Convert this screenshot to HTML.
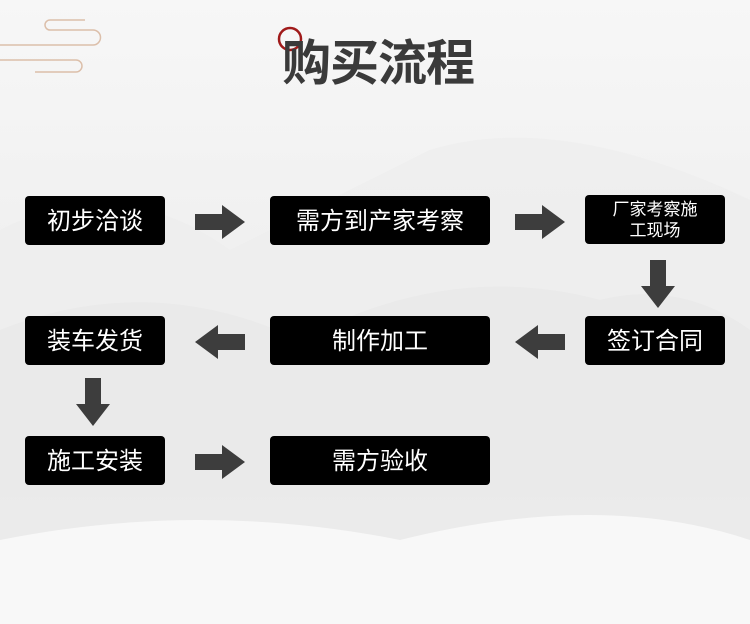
<!DOCTYPE html>
<html><head><meta charset="utf-8"><style>
body{margin:0;width:750px;height:624px;overflow:hidden;position:relative;background:linear-gradient(#f7f7f7 0%,#f0f0f0 40%,#f1f1f1 70%,#f9f9f9 100%);font-family:"Liberation Sans","Noto Sans CJK SC",sans-serif}
.b{position:absolute;box-sizing:border-box;padding-top:4px;background:#000;color:#fff;border-radius:4px;display:flex;align-items:center;justify-content:center;font-size:24px;text-align:center;line-height:1.2}
.t{position:absolute;left:282px;top:24px;font-size:49px;font-weight:bold;color:#3a3a3a;letter-spacing:-1px}
</style></head><body>
<svg style="position:absolute;left:0;top:0" width="750" height="624">
<path d="M0 230 Q120 170 230 250 Q330 200 430 150 Q560 110 750 200 L750 624 L0 624Z" fill="#ebebeb" opacity=".5"/>
<path d="M0 330 Q150 270 300 340 Q450 260 600 300 Q680 280 750 330 L750 624 L0 624Z" fill="#e6e6e6" opacity=".5"/>
<path d="M0 540 Q200 500 400 540 Q600 490 750 540 L750 624 L0 624Z" fill="#f8f8f8"/>
<g fill="none" stroke="#dcbfaa" stroke-width="1.5">
<path d="M85 20 H50 a5 5 0 0 0 0 10 H93 a7.5 7.5 0 0 1 0 15 H0"/>
<path d="M0 60 H76 a6 6 0 0 1 0 12 H35"/>
</g>
<circle cx="290" cy="39" r="11" fill="none" stroke="#a01a1a" stroke-width="2.5"/>
<g fill="#3d3d3d">
<polygon points="195,214 222,214 222,205 245,222 222,239 222,230 195,230"/>
<polygon points="515,214 542,214 542,205 565,222 542,239 542,230 515,230"/>
<polygon points="245,334 218,334 218,325 195,342 218,359 218,350 245,350"/>
<polygon points="565,334 538,334 538,325 515,342 538,359 538,350 565,350"/>
<polygon points="195,454 222,454 222,445 245,462 222,479 222,470 195,470"/>
<polygon points="650,260 666,260 666,286 675,286 658,308 641,286 650,286"/>
<polygon points="85,378 101,378 101,404 110,404 93,426 76,404 85,404"/>
</g>
</svg>
<div class="t">购买流程</div>
<div class="b" style="left:25px;top:196px;width:140px;height:49px">初步洽谈</div>
<div class="b" style="left:270px;top:196px;width:220px;height:49px">需方到产家考察</div>
<div class="b" style="left:585px;top:195px;width:140px;height:49px;font-size:17px;padding-top:2px">厂家考察施<br>工现场</div>
<div class="b" style="left:25px;top:316px;width:140px;height:49px">装车发货</div>
<div class="b" style="left:270px;top:316px;width:220px;height:49px">制作加工</div>
<div class="b" style="left:585px;top:316px;width:140px;height:49px">签订合同</div>
<div class="b" style="left:25px;top:436px;width:140px;height:49px">施工安装</div>
<div class="b" style="left:270px;top:436px;width:220px;height:49px">需方验收</div>
</body></html>
